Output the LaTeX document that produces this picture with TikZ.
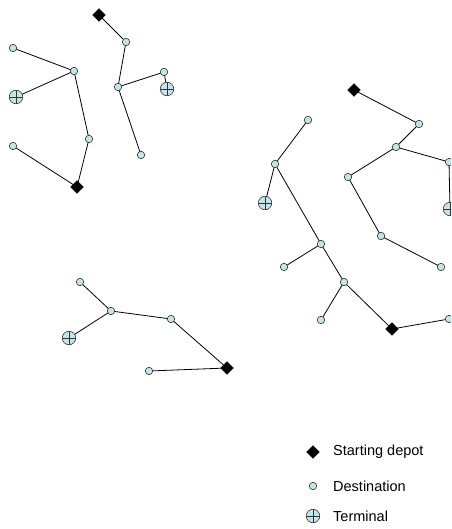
\documentclass[tikz,border=0pt]{standalone}
\usepackage{fontspec}
\setmainfont{Liberation Sans}
\usetikzlibrary{shapes.geometric,backgrounds}
\definecolor{nodefill}{HTML}{C4E4E8}
\tikzset{
  depot/.style={diamond,fill=black,draw=black,inner sep=0pt,minimum size=13pt},
  dest/.style={circle,fill=nodefill,draw=black!80,line width=0.6pt,inner sep=0pt,minimum size=7.5pt},
  terminal/.style={circle,fill=nodefill,draw=black!80,line width=0.6pt,inner sep=0pt,minimum size=13.5pt,
    path picture={\draw[black!80,line width=0.6pt]
      (path picture bounding box.north) -- (path picture bounding box.south)
      (path picture bounding box.west) -- (path picture bounding box.east);}},
  route/.style={draw=black,line width=0.8pt},
  legendtext/.style={anchor=west,inner sep=0pt,font=\fontsize{14.5}{17}\selectfont}
}
\begin{document}
\begin{tikzpicture}[x=1pt,y=-1pt]
\clip (0,0) rectangle (451,529);
\useasboundingbox (0,0) rectangle (451,529);

% tour from the upper depot
\node[depot] (d1) at (99,15) {};
\node[dest] (a) at (126,42) {};
\node[dest] (b) at (118,87) {};
\node[dest] (c) at (164,72) {};
\node[terminal] (t1) at (167,89) {};
\node[dest] (e) at (141,155) {};

% tour on the left
\node[dest] (f) at (13,48) {};
\node[dest] (g) at (74,71) {};
\node[terminal] (t2) at (16,97) {};
\node[dest] (h) at (89,139) {};
\node[dest] (i) at (13,146) {};
\node[depot] (d2) at (77,187) {};

% tour at the bottom
\node[dest] (j) at (80,282) {};
\node[dest] (k) at (111,311) {};
\node[terminal] (t3) at (69,338) {};
\node[dest] (l) at (171,319) {};
\node[depot] (d3) at (227,368) {};
\node[dest] (m) at (149,371) {};

% tour on the far right
\node[depot] (d4) at (354,90) {};
\node[dest] (n) at (419,124) {};
\node[dest] (o) at (396,147) {};
\node[dest] (p) at (449,162) {};
\node[terminal] (t4) at (450,209) {};
\node[dest] (q) at (348,177) {};
\node[dest] (r) at (381,236) {};
\node[dest] (s) at (441,267) {};

% tour in the middle
\node[dest] (t) at (308,120) {};
\node[dest] (u) at (275,164) {};
\node[terminal] (t5) at (265,203) {};
\node[dest] (v) at (321,244) {};
\node[dest] (w) at (284,267) {};
\node[dest] (x) at (344,282) {};
\node[dest] (y) at (321,320) {};
\node[depot] (d5) at (392,329) {};
\node[dest] (z) at (449,319) {};

\begin{scope}[on background layer]
  \path[route] (d1.center) -- (a.center) -- (b.center) -- (c.center) -- (t1.center)
               (b.center) -- (e.center);
  \path[route] (f.center) -- (g.center) -- (t2.center)
               (g.center) -- (h.center) -- (d2.center) -- (i.center);
  \path[route] (j.center) -- (k.center) -- (t3.center)
               (k.center) -- (l.center) -- (d3.center) -- (m.center);
  \path[route] (d4.center) -- (n.center) -- (o.center) -- (p.center) -- (t4.center)
               (o.center) -- (q.center) -- (r.center) -- (s.center);
  \path[route] (t.center) -- (u.center) -- (t5.center)
               (u.center) -- (v.center) -- (x.center) -- (d5.center) -- (z.center)
               (v.center) -- (w.center)
               (x.center) -- (y.center);
\end{scope}

% legend
\node[depot] (ld) at (313,452) {};
\node[legendtext] (ldt) at (333,452) {Starting depot};
\node[dest] (lc) at (313,486) {};
\node[legendtext] (lct) at (333,486) {Destination};
\node[terminal] (lt) at (313,516) {};
\node[legendtext] (ltt) at (333,516) {Terminal};
\end{tikzpicture}
\end{document}
